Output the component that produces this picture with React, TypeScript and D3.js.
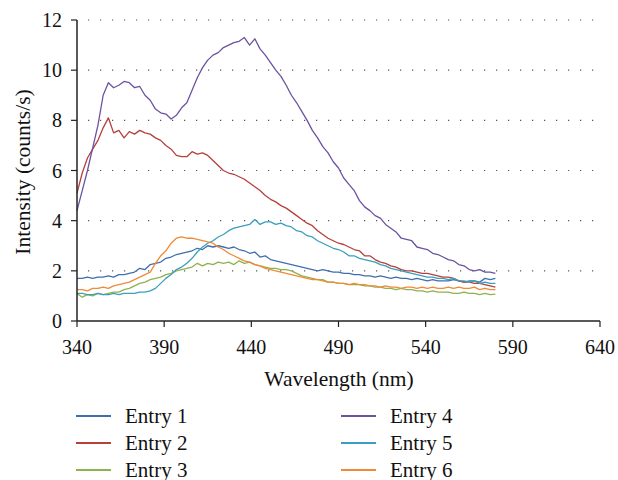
import React from "react";
import * as d3 from "d3";

const wavelengths: number[] = d3.range(340, 581, 3);

const entry1 = [1.7,1.7,1.75,1.7,1.75,1.75,1.8,1.75,1.85,1.85,1.9,1.95,2.1,2.05,2.25,2.3,2.35,2.5,2.55,2.65,2.7,2.75,2.8,2.9,2.85,3.0,2.95,3.0,2.95,2.9,2.95,2.85,2.8,2.7,2.75,2.55,2.6,2.45,2.4,2.35,2.3,2.25,2.2,2.15,2.1,2.05,2.0,2.05,2.0,1.95,1.95,1.9,1.9,1.85,1.85,1.8,1.8,1.75,1.8,1.75,1.7,1.75,1.7,1.7,1.65,1.7,1.65,1.6,1.65,1.6,1.6,1.6,1.65,1.6,1.55,1.6,1.6,1.55,1.7,1.65,1.7];
const entry2 = [5.1,5.9,6.5,6.85,7.2,7.7,8.1,7.5,7.6,7.3,7.55,7.45,7.6,7.5,7.45,7.3,7.2,7.0,6.85,6.6,6.55,6.55,6.75,6.65,6.7,6.6,6.4,6.2,6.0,5.9,5.85,5.75,5.65,5.5,5.35,5.2,5.0,4.85,4.75,4.6,4.5,4.35,4.2,4.05,3.9,3.8,3.6,3.45,3.3,3.2,3.1,3.05,2.95,2.85,2.8,2.6,2.6,2.45,2.35,2.3,2.2,2.15,2.05,2.0,2.0,1.95,1.9,1.9,1.85,1.8,1.75,1.75,1.7,1.6,1.55,1.55,1.5,1.5,1.45,1.4,1.35];
const entry3 = [1.1,0.95,1.05,1.0,1.1,1.05,1.1,1.15,1.15,1.25,1.3,1.4,1.5,1.55,1.65,1.7,1.75,1.85,1.9,2.0,2.05,2.1,2.15,2.3,2.2,2.3,2.25,2.35,2.3,2.35,2.25,2.4,2.3,2.35,2.25,2.2,2.15,2.1,2.1,2.05,2.05,2.0,1.9,1.8,1.75,1.7,1.65,1.65,1.55,1.55,1.5,1.5,1.45,1.45,1.45,1.4,1.4,1.35,1.35,1.3,1.3,1.25,1.3,1.25,1.25,1.2,1.2,1.15,1.2,1.15,1.15,1.15,1.1,1.1,1.15,1.1,1.1,1.05,1.1,1.05,1.07];
const entry4 = [4.4,5.2,6.0,6.9,7.8,9.0,9.5,9.3,9.4,9.55,9.5,9.3,9.35,9.0,8.8,8.45,8.3,8.25,8.05,8.2,8.5,8.7,9.2,9.7,10.1,10.4,10.6,10.7,10.9,11.0,11.1,11.15,11.3,11.0,11.25,10.85,10.6,10.3,10.0,9.75,9.4,9.0,8.7,8.35,8.0,7.6,7.3,6.95,6.7,6.35,6.1,5.7,5.45,5.2,4.8,4.55,4.4,4.2,4.1,3.85,3.7,3.55,3.3,3.25,3.2,2.95,2.9,2.85,2.7,2.65,2.55,2.45,2.4,2.25,2.2,2.05,2.0,2.05,1.95,1.95,1.9];
const entry5 = [1.1,1.1,1.05,1.05,1.1,1.05,1.05,1.1,1.05,1.1,1.1,1.1,1.15,1.15,1.2,1.3,1.5,1.7,1.85,2.05,2.15,2.3,2.5,2.75,2.95,3.1,3.2,3.35,3.45,3.6,3.7,3.75,3.8,3.85,4.05,3.85,3.95,3.95,3.85,3.9,3.8,3.75,3.6,3.55,3.4,3.35,3.2,3.1,3.0,2.9,2.85,2.75,2.6,2.6,2.5,2.45,2.4,2.35,2.25,2.2,2.1,2.05,2.0,1.95,1.9,1.85,1.8,1.75,1.75,1.7,1.7,1.65,1.7,1.6,1.6,1.55,1.6,1.5,1.55,1.5,1.5];
const entry6 = [1.25,1.25,1.2,1.3,1.3,1.35,1.3,1.4,1.45,1.5,1.55,1.65,1.75,1.85,1.95,2.3,2.6,2.8,3.1,3.3,3.35,3.3,3.3,3.25,3.2,3.15,3.1,2.95,2.85,2.7,2.6,2.5,2.4,2.35,2.25,2.2,2.1,2.05,2.0,1.95,1.9,1.85,1.8,1.75,1.7,1.65,1.65,1.6,1.55,1.55,1.5,1.5,1.45,1.5,1.45,1.45,1.4,1.4,1.35,1.4,1.35,1.35,1.3,1.35,1.35,1.3,1.35,1.3,1.35,1.3,1.3,1.35,1.3,1.35,1.3,1.3,1.35,1.25,1.3,1.25,1.25];

const seriesNames = ["Entry 1", "Entry 2", "Entry 3", "Entry 4", "Entry 5", "Entry 6"];
const seriesValues = [entry1, entry2, entry3, entry4, entry5, entry6];
const seriesColors = ["#3f6fae", "#b5403d", "#8fb24f", "#6c52a0", "#3a9fbe", "#f08a36"];

const xTicks = [340, 390, 440, 490, 540, 590, 640];
const yTicks = [0, 2, 4, 6, 8, 10, 12];

export default function App() {
  const W = 618, H = 480;
  const left = 77, right = 600, top = 20, bottom = 321;
  const x = d3.scaleLinear().domain([340, 640]).range([left, right]);
  const y = d3.scaleLinear().domain([0, 12]).range([bottom, top]);
  const font = "'Liberation Serif', 'Times New Roman', serif";

  const line = d3
    .line<number>()
    .x((_, i) => x(wavelengths[i]))
    .y((d) => y(d));

  const legendRows = 3;
  return (
    <svg width={W} height={H} style={{ position: "absolute", left: 0, top: 0, background: "#fff" }}>
      {yTicks.filter((t) => t > 0).map((t) => (
        <line key={"g" + t} x1={88} x2={596} y1={y(t)} y2={y(t)} stroke="#555" strokeWidth={1.2} strokeDasharray="1.2 10.8" />
      ))}
      {seriesValues.map((vals, i) => (
        <path key={i} d={line(vals) || ""} fill="none" stroke={seriesColors[i]} strokeWidth={1.3} strokeLinejoin="round" />
      ))}
      <line x1={left} x2={left} y1={top} y2={bottom} stroke="#222" strokeWidth={1.5} />
      <line x1={left} x2={right} y1={bottom} y2={bottom} stroke="#222" strokeWidth={1.5} />
      {yTicks.map((t) => (
        <g key={"y" + t}>
          <line x1={left - 6} x2={left} y1={y(t)} y2={y(t)} stroke="#222" strokeWidth={1.2} />
          <text x={62} y={y(t)} dy="0.35em" textAnchor="end" fontFamily={font} fontSize={20} fill="#111">{t}</text>
        </g>
      ))}
      {xTicks.map((t) => (
        <g key={"x" + t}>
          <line x1={x(t)} x2={x(t)} y1={bottom} y2={bottom + 6} stroke="#222" strokeWidth={1.2} />
          <text x={x(t)} y={347} dy="0.35em" textAnchor="middle" fontFamily={font} fontSize={20} fill="#111">{t}</text>
        </g>
      ))}
      <text x={339} y={378} dy="0.35em" textAnchor="middle" fontFamily={font} fontSize={21.5} fill="#111">Wavelength (nm)</text>
      <text transform={`translate(22,172) rotate(-90)`} dy="0.35em" textAnchor="middle" fontFamily={font} fontSize={21.5} fill="#111">Intensity (counts/s)</text>
      {seriesNames.map((name, i) => {
        const col = Math.floor(i / legendRows);
        const row = i % legendRows;
        const lx = col === 0 ? 76 : 341;
        const ly = 416 + row * 27;
        return (
          <g key={name}>
            <line x1={lx} x2={lx + 35} y1={ly} y2={ly} stroke={seriesColors[i]} strokeWidth={1.8} />
            <text x={lx + 49} y={ly} dy="0.35em" fontFamily={font} fontSize={21} fill="#111">{name}</text>
          </g>
        );
      })}
    </svg>
  );
}
